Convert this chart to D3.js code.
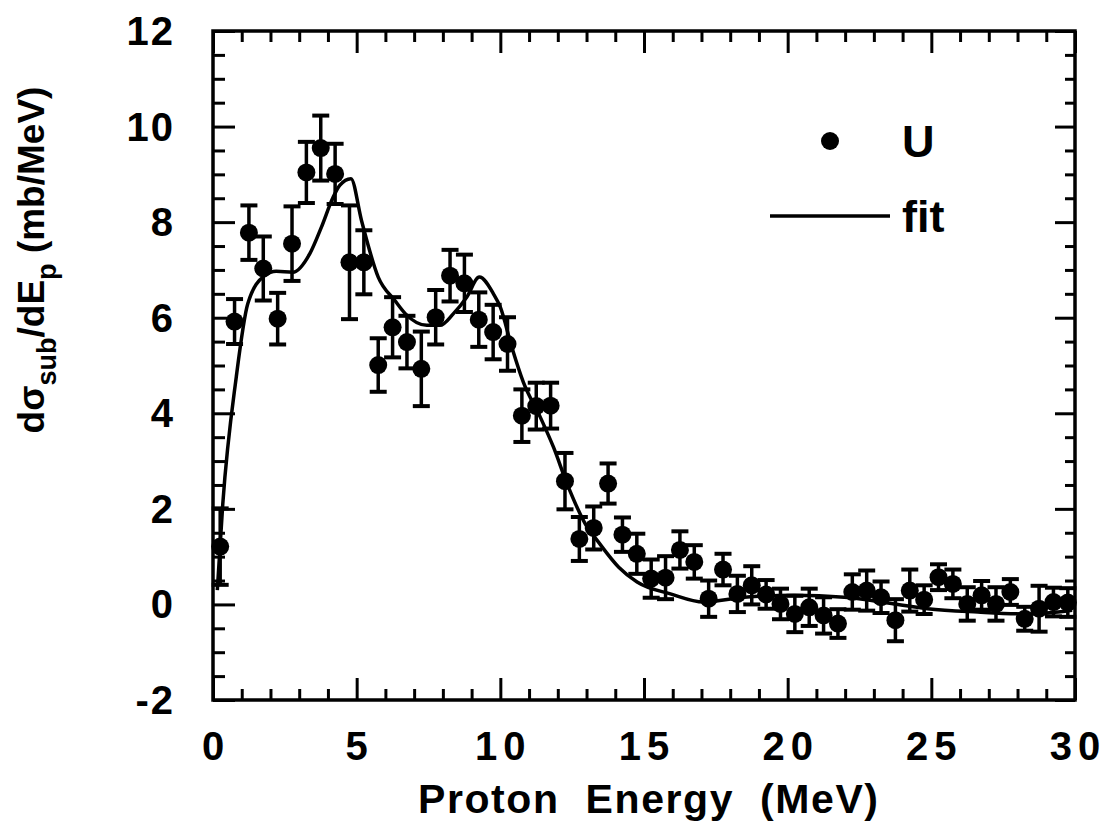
<!DOCTYPE html>
<html>
<head>
<meta charset="utf-8">
<script src="https://cdn.jsdelivr.net/npm/d3@7"></script>
<style>
  body { margin: 0; background: #fff; }
  text { font-family: "Liberation Sans", Arial, Helvetica, sans-serif; font-weight: bold; fill: #000; }
</style>
</head>
<body>
<svg id="chart" width="1108" height="832"></svg>
<script>
// measured U spectrum (proton energy in MeV, dsigma/dE in mb/MeV, error)
var energy = [0.25, 0.75, 1.25, 1.75, 2.25, 2.75, 3.25, 3.75, 4.25, 4.75,
              5.25, 5.75, 6.25, 6.75, 7.25, 7.75, 8.25, 8.75, 9.25, 9.75,
              10.25, 10.75, 11.25, 11.75, 12.25, 12.75, 13.25, 13.75, 14.25, 14.75,
              15.25, 15.75, 16.25, 16.75, 17.25, 17.75, 18.25, 18.75, 19.25, 19.75,
              20.25, 20.75, 21.25, 21.75, 22.25, 22.75, 23.25, 23.75, 24.25, 24.75,
              25.25, 25.75, 26.25, 26.75, 27.25, 27.75, 28.25, 28.75, 29.25, 29.75];
var sigma = [1.21, 5.92, 7.78, 7.03, 5.98, 7.55, 9.04, 9.55, 9.01, 7.16,
             7.16, 5.01, 5.80, 5.49, 4.93, 6.01, 6.88, 6.72, 5.96, 5.70,
             5.45, 3.95, 4.15, 4.16, 2.58, 1.37, 1.60, 2.53, 1.46, 1.06,
             0.54, 0.56, 1.14, 0.89, 0.12, 0.73, 0.22, 0.40, 0.21, 0.01,
             -0.20, -0.06, -0.23, -0.40, 0.26, 0.29, 0.15, -0.33, 0.29, 0.10,
             0.57, 0.43, 0.01, 0.19, 0.01, 0.26, -0.30, -0.09, 0.05, 0.04];
var sigmaErr = [0.80, 0.47, 0.57, 0.67, 0.54, 0.78, 0.64, 0.68, 0.63, 1.19,
                0.67, 0.56, 0.63, 0.55, 0.78, 0.57, 0.54, 0.60, 0.57, 0.57,
                0.56, 0.55, 0.49, 0.48, 0.59, 0.46, 0.45, 0.42, 0.36, 0.42,
                0.40, 0.45, 0.39, 0.35, 0.38, 0.33, 0.38, 0.40, 0.30, 0.32,
                0.38, 0.39, 0.38, 0.30, 0.37, 0.42, 0.33, 0.44, 0.44, 0.30,
                0.27, 0.30, 0.35, 0.30, 0.35, 0.27, 0.25, 0.48, 0.30, 0.30];

// fit curve
var fitE = [0.15, 0.34, 0.81, 1.21, 1.8, 2.2, 2.78, 3.37, 3.77, 4.18, 4.41, 4.8,
            5.17, 5.75, 6.33, 6.7, 7.44, 7.9, 8.36, 8.83, 9.27, 9.76, 10.0, 10.4,
            10.8, 11.39, 11.85, 12.32, 13.02, 13.37, 14.12, 14.76, 15.92, 17.08,
            18.48, 20.22, 21.97, 23.71, 24.87, 26.62, 28.36, 29.9];
var fitY = [0.3, 2.1, 4.76, 6.29, 6.88, 6.97, 6.95, 7.34, 7.89, 8.52, 8.77, 8.91,
            8.03, 6.85, 6.36, 6.08, 5.84, 5.84, 6.08, 6.43, 6.85, 6.5, 6.22, 5.38,
            4.65, 3.92, 3.29, 2.53, 1.62, 1.34, 0.78, 0.47, 0.22, 0.05,
            0.15, 0.19, 0.15, 0.01, -0.09, -0.16, -0.2, -0.12];

var xTicks = [0, 5, 10, 15, 20, 25, 30];
var yTicks = [-2, 0, 2, 4, 6, 8, 10, 12];

var svg = d3.select("svg#chart");

var plotL = 213, plotR = 1075, plotT = 31, plotB = 700;

var x = d3.scaleLinear().domain([0, 30]).range([plotL, plotR]);
var y = d3.scaleLinear().domain([-2, 12]).range([plotB, plotT]);

var minorX = d3.range(0, 31, 1).filter(function (d) { return d % 5 !== 0; });
var minorY = d3.range(-2, 12.01, 0.5).filter(function (d) { return d % 2 !== 0; });

function tickAxis(axis, scale, vals, len) {
  return axis(scale).tickValues(vals).tickSize(-len).tickFormat("");
}

// ticks pointing inward on all four sides
var tickGroups = [
  [d3.axisBottom, x, xTicks, 22, "translate(0," + plotB + ")"],
  [d3.axisBottom, x, minorX, 11, "translate(0," + plotB + ")"],
  [d3.axisTop, x, xTicks, 22, "translate(0," + plotT + ")"],
  [d3.axisTop, x, minorX, 11, "translate(0," + plotT + ")"],
  [d3.axisLeft, y, yTicks, 22, "translate(" + plotL + ",0)"],
  [d3.axisLeft, y, minorY, 12, "translate(" + plotL + ",0)"],
  [d3.axisRight, y, yTicks, 20, "translate(" + plotR + ",0)"],
  [d3.axisRight, y, minorY, 10, "translate(" + plotR + ",0)"]
];
tickGroups.forEach(function (t) {
  var g = svg.append("g").attr("transform", t[4]).call(tickAxis(t[0], t[1], t[2], t[3]));
  g.select(".domain").remove();
  g.selectAll("line").attr("stroke", "#000").attr("stroke-width", 3);
});

svg.append("rect")
  .attr("x", plotL).attr("y", plotT)
  .attr("width", plotR - plotL).attr("height", plotB - plotT)
  .attr("fill", "none").attr("stroke", "#000").attr("stroke-width", 3.5);

// tick labels
svg.append("g").selectAll("text")
  .data(xTicks)
  .enter().append("text")
    .attr("x", function (d) { return x(d) + 3; })
    .attr("y", 760)
    .attr("text-anchor", "middle")
    .attr("font-size", 40)
    .attr("letter-spacing", 6)
    .text(function (d) { return d; });

svg.append("g").selectAll("text")
  .data(yTicks)
  .enter().append("text")
    .attr("x", 175)
    .attr("y", function (d) { return y(d) + 14; })
    .attr("text-anchor", "end")
    .attr("font-size", 40)
    .attr("letter-spacing", 2)
    .text(function (d) { return d; });

// axis titles
svg.append("text")
  .attr("x", 418).attr("y", 813)
  .attr("font-size", 41)
  .attr("textLength", 460)
  .attr("lengthAdjust", "spacing")
  .style("white-space", "pre")
  .text("Proton  Energy  (MeV)");

var yTitle = svg.append("text")
  .attr("transform", "translate(44,260) rotate(-90)")
  .attr("text-anchor", "middle")
  .attr("font-size", 37)
  .style("white-space", "pre");
yTitle.append("tspan").text("dσ");
yTitle.append("tspan").attr("font-size", 27).attr("dy", 12).text("sub");
yTitle.append("tspan").attr("dy", -12).text("/dE");
yTitle.append("tspan").attr("font-size", 27).attr("dy", 12).text("p");
yTitle.append("tspan").attr("dy", -12).text(" (mb/MeV)");

// fit curve
var line = d3.line()
  .x(function (d, i) { return x(fitE[i]); })
  .y(function (d) { return y(d); })
  .curve(d3.curveMonotoneX);

svg.append("path")
  .datum(fitY)
  .attr("d", line)
  .attr("fill", "none")
  .attr("stroke", "#000")
  .attr("stroke-width", 3.5)
  .attr("stroke-linejoin", "round");

// data points with error bars
var pts = svg.append("g").selectAll("g")
  .data(energy)
  .enter().append("g");

pts.append("line")
  .attr("x1", function (d) { return x(d); })
  .attr("x2", function (d) { return x(d); })
  .attr("y1", function (d, i) { return y(sigma[i] - sigmaErr[i]); })
  .attr("y2", function (d, i) { return y(sigma[i] + sigmaErr[i]); })
  .attr("stroke", "#000").attr("stroke-width", 3.5);

[-1, 1].forEach(function (s) {
  pts.append("line")
    .attr("x1", function (d) { return x(d) - 8.5; })
    .attr("x2", function (d) { return x(d) + 8.5; })
    .attr("y1", function (d, i) { return y(sigma[i] + s * sigmaErr[i]); })
    .attr("y2", function (d, i) { return y(sigma[i] + s * sigmaErr[i]); })
    .attr("stroke", "#000").attr("stroke-width", 4);
});

pts.append("circle")
  .attr("cx", function (d) { return x(d); })
  .attr("cy", function (d, i) { return y(sigma[i]); })
  .attr("r", 9)
  .attr("fill", "#000");

// legend
var legend = svg.append("g");
legend.append("circle").attr("cx", 830).attr("cy", 141).attr("r", 9).attr("fill", "#000");
legend.append("text").attr("x", 902).attr("y", 157).attr("font-size", 45).text("U");
legend.append("line")
  .attr("x1", 770).attr("x2", 890).attr("y1", 216).attr("y2", 216)
  .attr("stroke", "#000").attr("stroke-width", 3.5);
legend.append("text").attr("x", 902).attr("y", 232).attr("font-size", 45).text("fit");
</script>
</body>
</html>
